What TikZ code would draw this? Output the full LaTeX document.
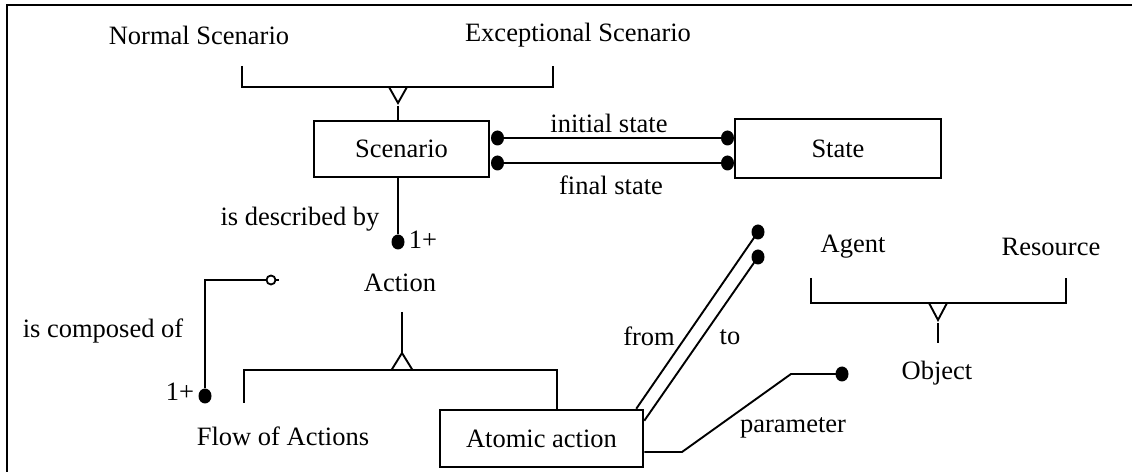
\documentclass[tikz,border=0pt]{standalone}
\usepackage{fontspec}
\setmainfont{Liberation Serif}
\usetikzlibrary{calc,shapes.geometric}
\begin{document}
\begin{tikzpicture}[x=1bp,y=-1bp,
  font=\fontsize{26.5bp}{30bp}\selectfont,
  conn/.style={line width=1.9bp},
  box/.style={draw, line width=2.5bp, inner sep=0pt},
  lbl/.style={inner sep=0pt},
  ball/.style={ellipse, fill, inner sep=0pt, minimum width=13bp, minimum height=15bp},
  opendot/.style={circle, draw, line width=1.8bp, fill=white, inner sep=0pt, minimum size=9bp}]
\useasboundingbox (0,0) rectangle (1132,472);
% frame
\draw[line width=2.4bp] (7,472) -- (7,5) -- (1132,5);

% top generalisation
\node[lbl] (normal) at (199,35) {Normal Scenario};
\node[lbl] (exc) at (578,35) {Exceptional Scenario};
\coordinate (sbL) at (242,66);
\coordinate (sbR) at (553,66);
\coordinate (sbLb) at (242,87);
\coordinate (sbRb) at (553,87);
\draw[conn] (sbL) -- (sbLb) -- (sbRb) -- (sbR);
\coordinate (stA) at (389,87);
\coordinate (stB) at (407,87);
\coordinate (stC) at (398,103);
\draw[conn, fill=white] (stA) -- (stB) -- (stC) -- cycle;
\coordinate (stL) at (398,106);

\node[box, minimum width=175bp, minimum height=56bp] (scen) at (401.5,149) {Scenario};
\node[box, minimum width=206bp, minimum height=59bp] (state) at (838,148.5) {State};
\draw[conn] (stL) -- (stL |- scen.north);

% initial / final state
\node[ball] (iL) at (497.5,138) {};
\node[ball] (iR) at (727.5,138) {};
\node[ball] (fL) at (497.5,163) {};
\node[ball] (fR) at (727.5,163) {};
\draw[conn] (iL) -- (iR);
\draw[conn] (fL) -- (fR);
\node[lbl] (initlbl) at (609,123) {initial state};
\node[lbl] (finallbl) at (611,185) {final state};

% is described by
\node[ball] (dDesc) at (398,242) {};
\draw[conn] (scen.south -| dDesc) -- (dDesc);
\node[lbl] (desclbl) at (300,219) {is described by};
\node[lbl] (descm) at (423,240) {1+};

% Action
\node[lbl] (action) at (400,283) {Action};
\coordinate (aTop) at (402,312);
\coordinate (aApex) at (402,353);
\coordinate (aB1) at (391.5,370);
\coordinate (aB2) at (412.5,370);
\draw[conn] (aTop) -- (aApex);
\draw[conn, fill=white] (aApex) -- (aB1) -- (aB2) -- cycle;

\node[lbl] (flow) at (283,436) {Flow of Actions};
\node[box, minimum width=203bp, minimum height=57bp] (atomic) at (541.5,438.5) {Atomic action};
\coordinate (abL) at (244,403);
\coordinate (abLt) at (244,370);
\coordinate (abRt) at (557,370);
\draw[conn] (abL) -- (abLt) -- (abRt) -- (abRt |- atomic.north);

% is composed of
\node[opendot] (oc) at (271,280) {};
\node[ball] (dComp) at (205,396) {};
\coordinate (cCorner) at (205,280);
\coordinate (ocTail) at (279,280);
\draw[conn] (oc.west) -- (cCorner) -- (dComp);
\draw[conn] (oc.east) -- (ocTail);
\node[lbl] (complbl) at (103,331) {is composed of};
\node[lbl] (compm) at (180,392) {1+};

% from / to
\node[ball] (dFrom) at (758,232) {};
\node[ball] (dTo) at (758,257) {};
\draw[conn] ($(atomic.north east)+(-8,0)$) -- (dFrom.center);
\draw[conn] ($(atomic.north east)+(0,12)$) -- (dTo.center);
\node[lbl] (fromlbl) at (649,336) {from};
\node[lbl] (tolbl) at (730,337) {to};

% parameter
\node[ball] (dParam) at (842,374) {};
\coordinate (pA) at (682,452);
\coordinate (pB) at (791,374);
\draw[conn] (atomic.east |- pA) -- (pA) -- (pB) -- (dParam.center);
\node[lbl] (paramlbl) at (793,428) {parameter};

% Object generalisation
\node[lbl] (agent) at (853,247) {Agent};
\node[lbl] (resource) at (1051,247) {Resource};
\coordinate (obL) at (811,278);
\coordinate (obLb) at (811,303);
\coordinate (obRb) at (1066,303);
\coordinate (obR) at (1066,278);
\draw[conn] (obL) -- (obLb) -- (obRb) -- (obR);
\coordinate (otA) at (929,303);
\coordinate (otB) at (947,303);
\coordinate (otC) at (938,320);
\draw[conn, fill=white] (otA) -- (otB) -- (otC) -- cycle;
\node[lbl] (object) at (937,373) {Object};
\coordinate (oL1) at (938,323);
\coordinate (oL2) at (938,343);
\draw[conn] (oL1) -- (oL2);
\end{tikzpicture}
\end{document}
